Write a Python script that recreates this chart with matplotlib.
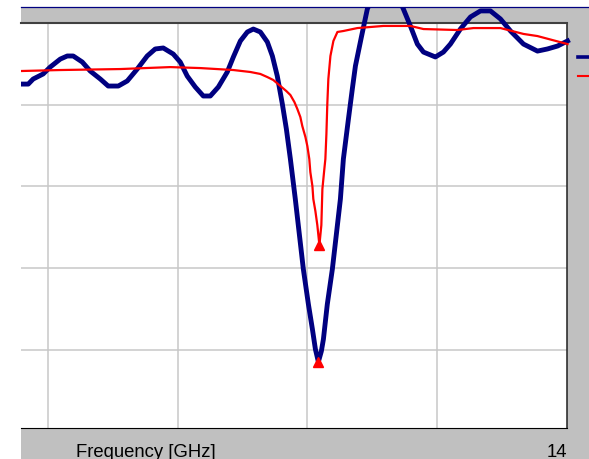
import numpy as np
import matplotlib
matplotlib.use("Agg")
import matplotlib.pyplot as plt
from matplotlib.patches import Rectangle
from matplotlib.lines import Line2D

# Frequency sweep (GHz) and responses (dB) for the two traces
freq_blue = [9.792, 9.846, 9.884, 9.961, 10.015, 10.093, 10.147, 10.193, 10.263,
             10.324, 10.402, 10.463, 10.541, 10.610, 10.687, 10.764, 10.826, 10.888,
             10.965, 11.019, 11.073, 11.135, 11.197, 11.251, 11.313, 11.382, 11.429,
             11.483, 11.537, 11.583, 11.637, 11.691, 11.730, 11.768, 11.807, 11.838,
             11.869, 11.907, 11.938, 11.969, 12.008, 12.039, 12.062, 12.085, 12.108,
             12.124, 12.154, 12.193, 12.224, 12.255, 12.278, 12.317, 12.347, 12.371,
             12.417, 12.463, 12.602, 12.741, 12.795, 12.849, 12.896, 12.988, 13.050,
             13.104, 13.181, 13.259, 13.336, 13.413, 13.490, 13.568, 13.668, 13.776,
             13.853, 13.931, 14.008]
resp_blue = [-3.74, -3.74, -3.43, -3.12, -2.70, -2.21, -2.02, -2.02, -2.39,
             -2.94, -3.43, -3.86, -3.86, -3.55, -2.82, -2.02, -1.59, -1.53,
             -1.90, -2.39, -3.25, -3.92, -4.47, -4.47, -3.92, -3.00, -2.08,
             -1.10, -0.55, -0.37, -0.55, -1.16, -2.02, -3.25, -4.96, -6.49,
             -8.33, -10.78, -12.93, -15.07, -17.22, -18.75, -19.97, -20.75, -20.10,
             -19.36, -17.22, -15.07, -12.93, -10.78, -8.33, -5.88, -4.04, -2.63,
             -0.86, 0.86, 3.31, 0.86, -0.18, -1.29, -1.78, -2.08, -1.78,
             -1.29, -0.37, 0.37, 0.74, 0.74, 0.25, -0.49, -1.29, -1.72,
             -1.59, -1.41, -1.10]

freq_red = [9.792, 10.093, 10.556, 10.942, 11.174, 11.429, 11.560, 11.637, 11.691,
            11.737, 11.792, 11.838, 11.869, 11.900, 11.923, 11.946, 11.961, 11.985,
            12.000, 12.015, 12.023, 12.039, 12.046, 12.062, 12.077, 12.093, 12.108,
            12.116, 12.131, 12.139, 12.147, 12.154, 12.162, 12.178, 12.201, 12.232,
            12.278, 12.386, 12.587, 12.795, 12.896, 13.158, 13.282, 13.490, 13.668,
            13.776, 14.008]
resp_red = [-2.94, -2.88, -2.82, -2.70, -2.76, -2.88, -3.00, -3.12, -3.31,
            -3.49, -3.86, -4.17, -4.41, -4.84, -5.27, -5.76, -6.31, -6.98,
            -7.54, -8.33, -9.13, -9.99, -10.78, -11.52, -12.38, -13.60, -12.38,
            -10.17, -8.95, -8.33, -6.80, -4.96, -3.43, -2.02, -1.10, -0.55,
            -0.49, -0.31, -0.18, -0.18, -0.37, -0.43, -0.31, -0.31, -0.67,
            -0.80, -1.29]

x_ticks = [10, 11, 12, 13]
y_ticks = [-5, -10, -15, -20]
x_end_label = "14"
x_title = "Frequency [GHz]"

W, H = 589, 460
fig = plt.figure(figsize=(W / 100, H / 100), dpi=100, facecolor="white")

def fx(px):
    return px / W

def fy(py):
    return 1 - py / H

# grey panel behind the plot
panel = Rectangle((fx(21), 0), 1 - fx(21), fy(8), transform=fig.transFigure,
                  facecolor="#c0c0c0", edgecolor="none", zorder=0)
fig.add_artist(panel)
fig.add_artist(Line2D([fx(21), 1], [fy(7.5), fy(7.5)], transform=fig.transFigure,
                      color="#000080", lw=0.9, zorder=1))

ax = fig.add_axes([fx(21), fy(429), fx(566.5) - fx(21), fy(24) - fy(429)])
ax.set_facecolor("white")
ax.set_xlim(9.79, 14.0)
ax.set_ylim(-24.8, 0)
ax.set_xticks(x_ticks)
ax.set_yticks(y_ticks)
ax.grid(True, color="#c8c8c8", lw=1.1)
ax.tick_params(length=0, labelbottom=False, labelleft=False)
ax.spines["left"].set_visible(False)
ax.spines["top"].set_color("#404040")
ax.spines["top"].set_linewidth(1.5)
ax.spines["bottom"].set_color("black")
ax.spines["bottom"].set_linewidth(0.8)
ax.spines["right"].set_color("#202020")
ax.spines["right"].set_linewidth(1.1)

clip = Rectangle((fx(21), 0), 1 - fx(21), fy(8), transform=fig.transFigure,
                 facecolor="none", edgecolor="none")

lb, = ax.plot(freq_blue, resp_blue, color="#000080", lw=3.5, zorder=3,
              solid_joinstyle="round")
lr, = ax.plot(freq_red, resp_red, color="#ff0000", lw=1.6, zorder=4)
for ln in (lb, lr):
    ln.set_clip_path(clip)

# markers at the minimum of each trace
for fr, rs in ((freq_blue, resp_blue), (freq_red, resp_red)):
    i = int(np.argmin(rs))
    ax.plot([fr[i]], [rs[i]], marker="^", color="#ff0000", ms=6.5, zorder=5,
            clip_on=False)

# axis texts
fig.text(fx(76), fy(457), x_title, fontsize=13.3, family="Liberation Sans",
         va="baseline", ha="left", color="black")
fig.text(fx(567), fy(457), x_end_label, fontsize=13.3, family="Liberation Sans",
         va="baseline", ha="right", color="black")

# trace key stubs at the right margin
fig.add_artist(Line2D([fx(578), fx(589)], [fy(57.5), fy(57.5)], transform=fig.transFigure,
                      color="#000080", lw=2.6))
fig.add_artist(Line2D([fx(578), fx(589)], [fy(77), fy(77)], transform=fig.transFigure,
                      color="#ff0000", lw=1.5))

fig.savefig("out.png", dpi=100, facecolor="white")
